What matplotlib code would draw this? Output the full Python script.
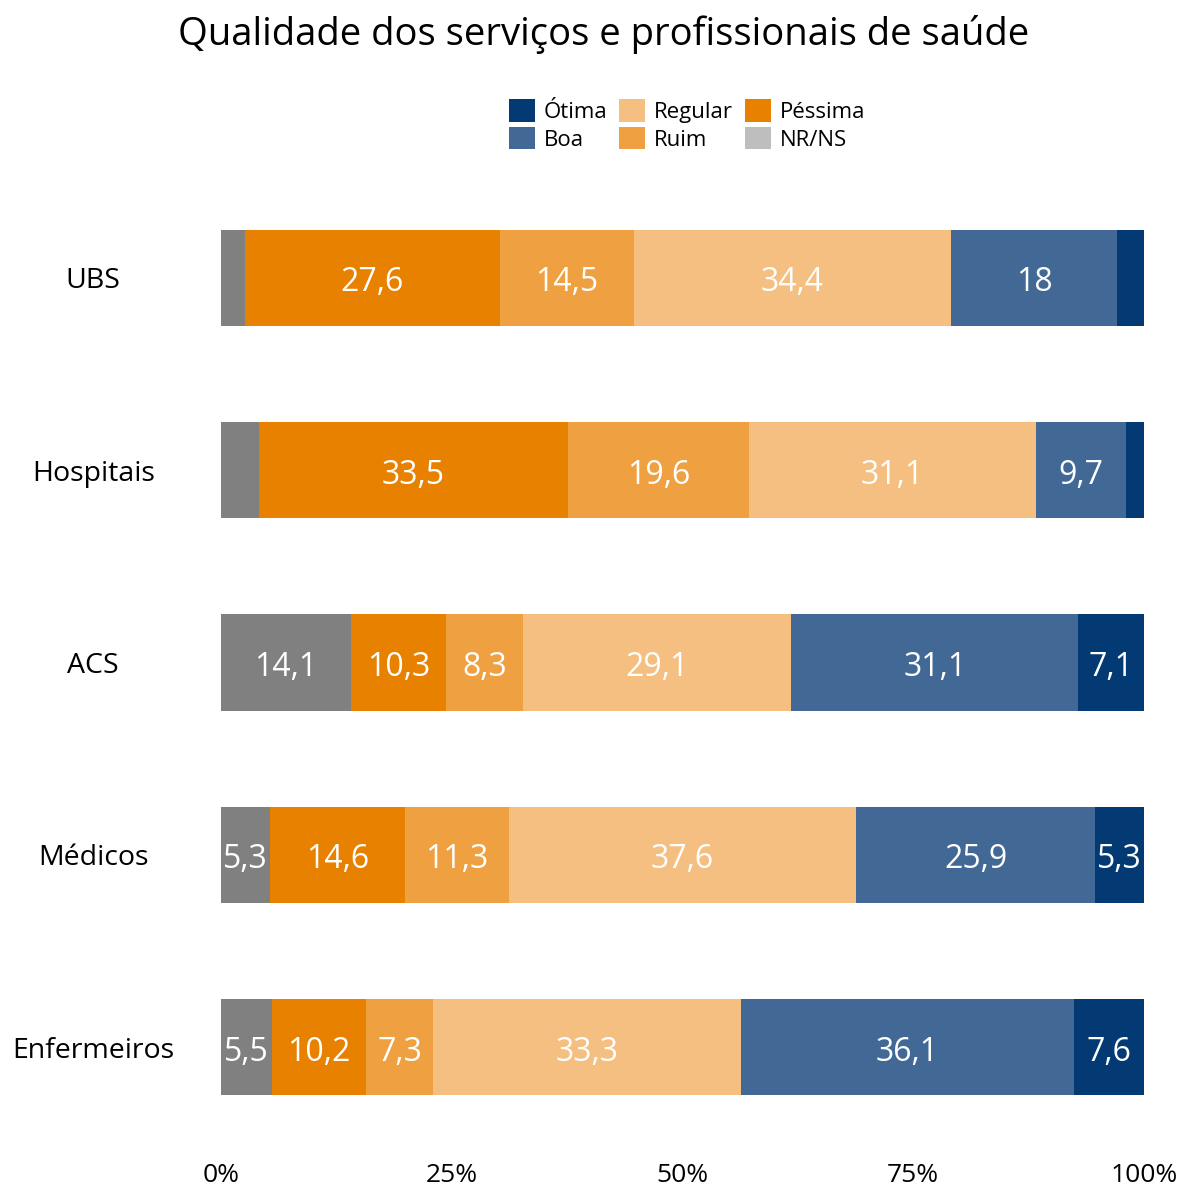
import matplotlib
matplotlib.use("Agg")
import matplotlib.pyplot as plt
import numpy as np
from matplotlib.patches import Patch

plt.rcParams["font.family"] = ["Open Sans", "DejaVu Sans"]

categories = ["UBS", "Hospitais", "ACS", "Médicos", "Enfermeiros"]
# stacked left to right
nr_ns = [2.6, 4.1, 14.1, 5.3, 5.5]
pessima = [27.6, 33.5, 10.3, 14.6, 10.2]
ruim = [14.5, 19.6, 8.3, 11.3, 7.3]
regular = [34.4, 31.1, 29.1, 37.6, 33.3]
boa = [18.0, 9.7, 31.1, 25.9, 36.1]
otima = [2.9, 2.0, 7.1, 5.3, 7.6]

series = [
    ("NR/NS", nr_ns, "#808080", "#bebebe"),
    ("Péssima", pessima, "#e88000", None),
    ("Ruim", ruim, "#efa142", None),
    ("Regular", regular, "#f4bf80", None),
    ("Boa", boa, "#426996", None),
    ("Ótima", otima, "#033a73", None),
]

W, H = 1182, 1189
fig = plt.figure(figsize=(W / 100, H / 100), dpi=100)
ax = fig.add_axes([221 / W, 1 - 1143.25 / H, 923 / W, 961.5 / H])

y = np.arange(len(categories))
left = np.zeros(len(categories))
for name, vals, color, _ in series:
    vals = np.array(vals)
    ax.barh(y, vals, left=left, height=0.5, color=color, edgecolor="none")
    for yi, l, v in zip(y, left, vals):
        if v >= 5:
            txt = f"{v:g}".replace(".", ",")
            ax.text(l + v / 2, yi + 0.005, txt, ha="center", va="center_baseline",
                    color="white", fontsize=23)
    left += vals

ax.set_xlim(0, 100)
ax.set_ylim(4.5, -0.5)
ax.set_yticks(y)
ax.set_yticklabels(categories, fontsize=20.5)
for lab in ax.get_yticklabels():
    lab.set_ha("center")
    lab.set_va("center_baseline")
ax.tick_params(axis="y", length=0, pad=92)
ax.set_xticks([0, 25, 50, 75, 100])
ax.set_xticklabels(["0%", "25%", "50%", "75%", "100%"], fontsize=19)
ax.tick_params(axis="x", length=0, pad=14)
for s in ax.spines.values():
    s.set_visible(False)

fig.text(604 / W, 1 - 35 / H, "Qualidade dos serviços e profissionais de saúde",
         ha="center", va="center", fontsize=27.5)

order = ["Ótima", "Boa", "Regular", "Ruim", "Péssima", "NR/NS"]
lookup = {n: (lc or c) for n, _, c, lc in series}
handles = [Patch(facecolor=lookup[n], edgecolor="none", label=n) for n in order]
fig.legend(handles=handles, ncol=3, loc="center", bbox_to_anchor=(687 / W, 1 - 125 / H),
           frameon=False, fontsize=16, handlelength=1.15, handleheight=1.15,
           labelspacing=0.18, handletextpad=0.4, columnspacing=0.55)

fig.savefig("out.png", dpi=100)
